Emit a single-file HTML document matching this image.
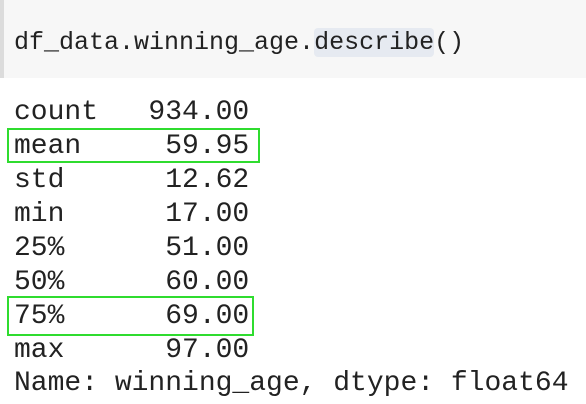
<!DOCTYPE html>
<html><head><meta charset="utf-8"><style>
body{margin:0;width:586px;height:404px;background:#fff;position:relative;overflow:hidden;font-family:"Liberation Mono",monospace;color:#222}
.cell{position:absolute;left:0;top:0;width:586px;height:78px;background:#f7f7f7;border-left:4px solid #dcdcdc;box-sizing:border-box}
.code{position:absolute;left:14px;top:24px;font-size:25px;line-height:38px;white-space:pre;color:#222}
.hl{background:#e6eaf1;border-radius:4px}
.row{position:absolute;left:14px;font-size:28px;line-height:34px;white-space:pre}
.box{position:absolute;border:2px solid #2fdc2f;box-sizing:border-box}
</style></head><body>
<div class="cell"></div>
<div class="code">df_data.winning_age.<span class="hl">describe</span>()</div>
<div class="row" style="top:96px">count   934.00</div>
<div class="row" style="top:130px">mean     59.95</div>
<div class="row" style="top:164px">std      12.62</div>
<div class="row" style="top:198px">min      17.00</div>
<div class="row" style="top:232px">25%      51.00</div>
<div class="row" style="top:266px">50%      60.00</div>
<div class="row" style="top:300px">75%      69.00</div>
<div class="row" style="top:334px">max      97.00</div>
<div class="row" style="top:367px">Name: winning_age, dtype: float64</div>
<div class="box" style="left:7px;top:128px;width:253px;height:35px"></div>
<div class="box" style="left:7px;top:296px;width:247px;height:40px"></div>
</body></html>
